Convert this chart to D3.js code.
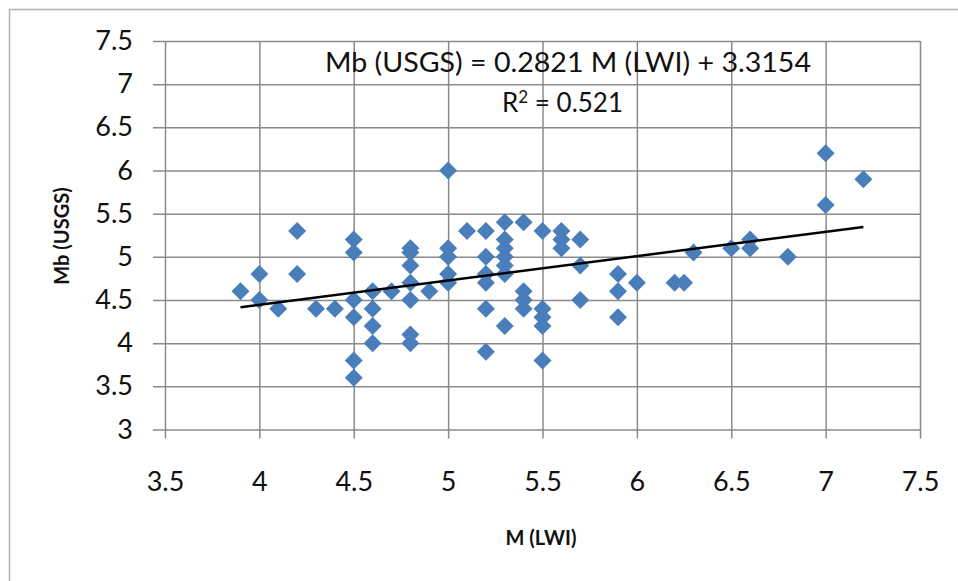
<!DOCTYPE html>
<html>
<head>
<meta charset="utf-8">
<script src="https://cdn.jsdelivr.net/npm/d3@7"></script>
<style>
  body { margin: 0; background: #fff; }
  svg { display: block; }
  text { font-family: Lato, "Open Sans", sans-serif; fill: #111; }
</style>
</head>
<body>
<div id="chart"></div>
<script>

// M (LWI) vs Mb (USGS)
var mLWI = [3.9, 4.0, 4.0, 4.1, 4.2, 4.2, 4.3, 4.4,
	4.5, 4.5, 4.5, 4.5, 4.5, 4.5, 4.6, 4.6, 4.6, 4.6, 4.7,
	4.8, 4.8, 4.8, 4.8, 4.8, 4.8, 4.8, 4.9,
	5.0, 5.0, 5.0, 5.0, 5.0, 5.1,
	5.2, 5.2, 5.2, 5.2, 5.2, 5.2,
	5.3, 5.3, 5.3, 5.3, 5.3, 5.3, 5.3,
	5.4, 5.4, 5.4, 5.4, 5.5, 5.5, 5.5, 5.5, 5.5,
	5.6, 5.6, 5.6, 5.7, 5.7, 5.7, 5.9, 5.9, 5.9,
	6.0, 6.2, 6.25, 6.3, 6.5, 6.6, 6.6, 6.8, 7.0, 7.0, 7.2];

var mbUSGS = [4.6, 4.8, 4.5, 4.4, 5.3, 4.8, 4.4, 4.4,
	5.2, 5.05, 4.5, 4.3, 3.8, 3.6, 4.6, 4.4, 4.2, 4.0, 4.6,
	5.1, 5.05, 4.9, 4.7, 4.5, 4.1, 4.0, 4.6,
	6.0, 5.1, 5.0, 4.8, 4.7, 5.3,
	5.3, 5.0, 4.8, 4.7, 4.4, 3.9,
	5.4, 5.2, 5.1, 5.0, 4.9, 4.8, 4.2,
	5.4, 4.6, 4.5, 4.4, 5.3, 4.4, 4.3, 4.2, 3.8,
	5.3, 5.2, 5.1, 5.2, 4.9, 4.5, 4.8, 4.6, 4.3,
	4.7, 4.7, 4.7, 5.05, 5.1, 5.2, 5.1, 5.0, 6.2, 5.6, 5.9];

var xTicks = [3.5, 4, 4.5, 5, 5.5, 6, 6.5, 7, 7.5];
var yTicks = [3, 3.5, 4, 4.5, 5, 5.5, 6, 6.5, 7, 7.5];

// trendline as printed on the chart
var slope = 0.2821,
	intercept = 3.3154,
	rSquared = '0.521';
var trendRange = [3.9, 7.2];

var width = 958,
	height = 581,
	plot = { left: 165, right: 920, top: 41, bottom: 429.5 };

var x = d3.scaleLinear().domain([3.5, 7.5]).range([plot.left, plot.right]);
var y = d3.scaleLinear().domain([3, 7.5]).range([plot.bottom, plot.top]);

var svg = d3.select('#chart')
	.append('svg')
	.attr('width', width)
	.attr('height', height);

// chart frame
svg.append('rect')
	.attr('x', 9.5)
	.attr('y', 9.5)
	.attr('width', 1000)
	.attr('height', 1000)
	.attr('fill', 'none')
	.attr('stroke', '#b4b4b4')
	.attr('stroke-width', 1.5);

// y grid + ticks (lines run from the outer tick to the right edge)
var yAxis = svg.append('g')
	.attr('transform', 'translate(153,0)')
	.call(d3.axisLeft(y)
		.tickValues(yTicks)
		.tickFormat(d3.format('~g'))
		.tickSize(-(plot.right - 153))
		.tickPadding(20));

// x grid + ticks
var xAxis = svg.append('g')
	.attr('transform', 'translate(0,' + (plot.bottom + 9) + ')')
	.call(d3.axisBottom(x)
		.tickValues(xTicks)
		.tickFormat(d3.format('~g'))
		.tickSize(-(plot.bottom + 9 - plot.top))
		.tickPadding(33));

[xAxis, yAxis].forEach(function(g){
	g.select('.domain').remove();
	g.selectAll('.tick line')
		.attr('stroke', '#8a8a8a')
		.attr('stroke-width', 1.5);
	g.selectAll('.tick text')
		.style('font-size', '27px')
		.attr('fill', '#111');
});

// points
var diamond = 'M0,-9L9,0L0,9L-9,0Z';
svg.append('g')
	.selectAll('path')
	.data(mLWI)
	.enter()
	.append('path')
	.attr('d', diamond)
	.attr('fill', '#4a7ebb')
	.attr('transform', function(d, i){
		return 'translate(' + x(d) + ',' + y(mbUSGS[i]) + ')';
	});

// linear trendline
svg.append('line')
	.attr('x1', x(trendRange[0]))
	.attr('y1', y(slope * trendRange[0] + intercept))
	.attr('x2', x(trendRange[1]))
	.attr('y2', y(slope * trendRange[1] + intercept))
	.attr('stroke', '#000')
	.attr('stroke-width', 2.5);

// equation label
svg.append('text')
	.attr('x', 325)
	.attr('y', 72)
	.attr('textLength', 486)
	.attr('lengthAdjust', 'spacingAndGlyphs')
	.style('font-size', '26px')
	.text('Mb (USGS) = ' + slope + ' M (LWI) + ' + intercept);

var r2 = svg.append('text')
	.attr('x', 502)
	.attr('y', 112)
	.style('font-size', '26px');
r2.append('tspan').text('R');
r2.append('tspan').attr('dy', -9).style('font-size', '17px').text('2');
r2.append('tspan').attr('dy', 9).text(' = ' + rSquared);

// axis titles
svg.append('text')
	.attr('x', 541)
	.attr('y', 545)
	.attr('text-anchor', 'middle')
	.style('font-size', '20px')
	.style('font-weight', 'bold')
	.attr('fill', '#000')
	.text('M (LWI)');

svg.append('text')
	.attr('transform', 'translate(69,236) rotate(-90)')
	.attr('text-anchor', 'middle')
	.style('font-size', '20px')
	.style('font-weight', 'bold')
	.attr('fill', '#000')
	.text('Mb (USGS)');

</script>
</body>
</html>
